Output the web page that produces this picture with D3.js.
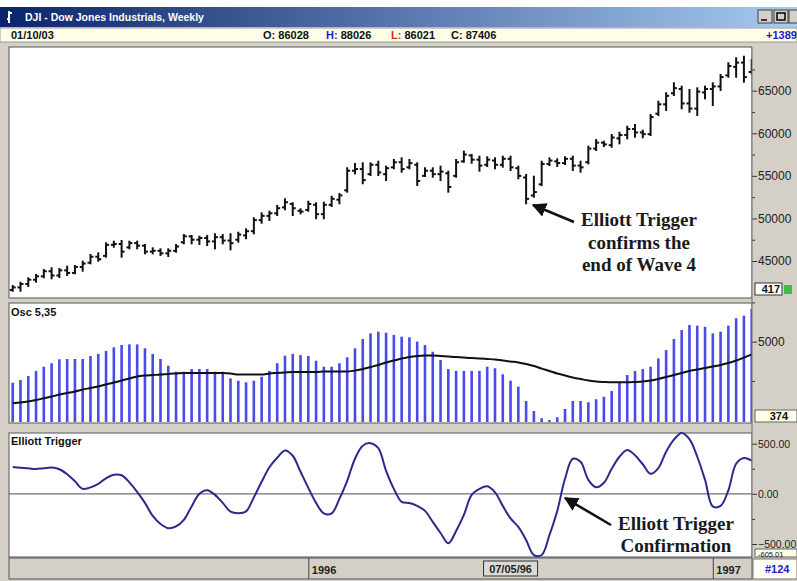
<!DOCTYPE html>
<html>
<head>
<meta charset="utf-8">
<script src="https://cdn.jsdelivr.net/npm/d3@7"></script>
<style>
body { margin: 0; background: #fff; }
text { font-family: "Liberation Sans", Arial, sans-serif; }
text.note { font-family: "Liberation Serif", "Times New Roman", serif; }
</style>
</head>
<body>
<div id="chart"></div>
<script>
const w = 797;
const h = 581;

// weekly DJI bars (values x10, as the chart shows them)
const opens = [41600,41900,42300,42800,43200,43800,43300,43900,43600,44300,
  44800,45500,45600,46900,47000,46600,47100,46800,46100,46200,
  45900,46200,47200,47900,47500,47700,47300,47800,47400,47500,
  48000,48500,49800,50300,50600,51300,51700,50900,51000,51600,
  50500,51600,52200,53300,55600,55800,55200,56300,55200,56000,
  56600,56000,56300,55000,55600,55200,55300,55000,56700,57400,
  56900,56300,56800,56300,57000,55900,54800,52700,54000,56400,
  56700,56500,57000,56200,56600,58200,58900,58600,59400,59800,
  60500,60100,59900,62300,63400,64700,65200,63500,62900,64800,
  65200,65500,66800,67800,68300,67200];
const highs = [42060,42450,42970,43360,43940,44140,44060,44330,44410,44920,
  45710,45900,47080,47270,47350,47270,47270,46880,46490,46370,
  46370,46880,48050,47940,47850,47940,48140,48050,48140,48320,
  48720,50020,50600,50790,51460,52250,51780,51070,51960,51780,
  51850,52550,52870,55890,56390,56470,56470,56660,56080,56860,
  57060,56860,56470,55890,55890,56080,55490,56860,57840,57450,
  57250,57180,57060,57250,57250,56080,55100,54900,56660,57060,
  56940,57180,57250,56660,58420,59210,59010,59800,60070,60770,
  60970,60300,62150,63710,64700,65870,65470,65080,65280,65470,
  65870,66840,68220,68810,68990,68610];
const lows = [41510,41510,42060,42570,43090,42970,43120,43360,43560,43860,
  44730,45040,45510,46680,45510,46490,46490,45900,45900,45710,
  45590,46090,47080,47080,47000,46880,46490,47080,46370,47270,
  47670,48250,49500,49820,50400,51070,50400,50600,50910,50020,
  50020,51460,51780,53140,55300,54130,55100,55100,54510,55890,
  55490,55890,53930,54980,54900,54510,53140,54900,56660,56540,
  55610,56160,55890,56080,55690,54710,51780,52550,53930,56270,
  56160,56390,55690,55490,56470,58040,58510,58420,58820,59410,
  59600,59530,59800,62150,62730,64500,62930,62530,62150,64110,
  63320,65080,66640,66640,66060,67040];
const closes = [41900,42300,42800,43200,43800,43300,43900,43600,44300,44700,
  45500,45200,46900,47000,46100,47100,46800,46100,46200,45900,
  46200,46700,47900,47500,47700,47300,47800,47400,47100,48100,
  48500,49800,50300,50600,51200,51900,51200,50800,51700,50500,
  51600,52300,52700,55600,55800,54500,56300,55400,55900,56600,
  55800,56500,54400,55600,55200,55500,53700,56600,57500,56900,
  56200,56900,56300,57000,56000,55000,52300,53100,56400,56800,
  56500,57000,56200,56000,58200,58900,58700,59500,59800,60500,
  60100,59900,61900,63400,64400,65300,63500,62900,64900,65200,
  65500,66600,67900,68300,66600,68300];

// Osc 5,35 histogram and its average
const oscValues = [2390,2560,2820,3140,3410,3630,3880,3900,3900,3900,
  4090,4220,4410,4640,4790,4830,4830,4580,4220,3900,
  3470,3090,3090,3260,3260,3260,3090,3090,2670,2520,
  2420,2520,2770,3140,3630,4110,4220,4150,4090,3790,
  3410,3410,3630,4010,4580,5170,5530,5640,5570,5430,
  5320,5280,5000,4790,4360,3840,3260,3140,3140,3140,
  3140,3410,3310,2930,2520,2140,1230,590,130,20,
  190,720,1230,1230,1150,1340,1500,1860,2420,2880,
  3140,3260,3410,3940,4470,5170,5740,6060,6020,5950,
  5530,5640,6020,6490,6650,7080];
const oscSignal = [1080,1130,1200,1290,1400,1510,1640,1740,1830,1960,
  2050,2150,2280,2400,2530,2660,2790,2850,2880,2910,
  2950,2980,3010,3010,3010,3010,3010,3010,2980,2910,
  2910,2910,2910,2980,3010,3040,3070,3070,3070,3070,
  3100,3100,3100,3100,3170,3260,3390,3520,3680,3800,
  3930,4030,4090,4120,4120,4090,4060,4030,3990,3960,
  3930,3900,3870,3800,3740,3680,3580,3450,3290,3140,
  2980,2850,2720,2630,2530,2470,2440,2420,2420,2420,
  2440,2470,2530,2630,2750,2880,3010,3140,3230,3330,
  3420,3520,3640,3800,3990,4190];

// Elliott Trigger
const trigger = [267,260,255,247,255,262,245,195,125,50,
  65,100,155,190,185,115,20,-90,-220,-300,
  -343,-325,-260,-125,0,37,-10,-90,-177,-193,
  -175,-35,120,265,360,433,380,220,60,-90,
  -195,-195,-50,130,350,480,505,455,230,50,
  -80,-92,-120,-170,-280,-390,-493,-370,-210,-10,
  50,75,15,-120,-245,-330,-460,-610,-610,-410,
  -170,150,350,320,140,65,110,250,370,438,
  385,295,200,257,420,540,607,545,370,140,
  -125,-120,35,300,357,330];

const priceTicks = [45000, 50000, 55000, 60000, 65000];
const priceMinor = [47500, 52500, 57500, 62500, 67500];
const oscTicks = [5000];
const oscMinor = [2500, 7500];
const trigTicks = [500, 0, -500];
const trigMinor = [250, -250];
const yearTicks = [new Date(1996, 0, 5), new Date(1997, 0, 3)];
const cursorDate = new Date(1996, 6, 5);

const weeks = d3.timeFriday.range(new Date(1995, 3, 14), new Date(1997, 1, 8));

const left = 9, right = 752;
const main = {top: 47, bottom: 298};
const osc = {top: 303, bottom: 423};
const trig = {top: 433, bottom: 557};

const x = d3.scaleTime().domain([weeks[0], weeks[weeks.length - 1]]).range([12.7, 751.7]);
const priceY = d3.scaleLinear().domain([45000, 65000]).range([261, 90.7]);
const oscY = d3.scaleLinear().domain([0, 5000]).range([420.3, 341.7]);
const trigY = d3.scaleLinear().domain([-500, 500]).range([544, 443.7]);

const svg = d3.select('#chart').append('svg')
  .attr('width', w).attr('height', h);

const defs = svg.append('defs');
const grad = defs.append('linearGradient').attr('id', 'titlebar');
grad.append('stop').attr('offset', '0%').attr('stop-color', '#0a246a');
grad.append('stop').attr('offset', '100%').attr('stop-color', '#a6caf0');
defs.append('marker').attr('id', 'arrow')
  .attr('viewBox', '0 0 10 10').attr('refX', 9).attr('refY', 5)
  .attr('markerWidth', 5.5).attr('markerHeight', 5.5).attr('orient', 'auto')
  .append('path').attr('d', 'M0,0 L10,5 L0,10 Z').attr('fill', '#111');

// window chrome
svg.append('rect').attr('x', 0).attr('y', 0).attr('width', w).attr('height', h).attr('fill', '#fff');
svg.append('rect').attr('x', 0).attr('y', 7).attr('width', w).attr('height', h - 7).attr('fill', '#d4d0c8');
svg.append('rect').attr('x', 0).attr('y', 7).attr('width', w).attr('height', 20).attr('fill', 'url(#titlebar)');
svg.append('path').attr('d', 'M9,23 L9,11 M9,13 L12,13 M7,19 L9,19')
  .attr('stroke', '#fff').attr('stroke-width', 2).attr('fill', 'none');
svg.append('text').attr('x', 25).attr('y', 21)
  .attr('fill', '#fff').attr('font-size', 10.5).attr('font-weight', 'bold')
  .text('DJI - Dow Jones Industrials, Weekly');

const btns = [758, 774, 789];
svg.selectAll('.btn').data(btns).enter().append('rect')
  .attr('class', 'btn').attr('x', d => d).attr('y', 10).attr('width', 14).attr('height', 13)
  .attr('fill', '#d4d0c8').attr('stroke', '#404040').attr('stroke-width', 1);
svg.append('path').attr('d', 'M761,20 L767,20 M777,13 L785,13 L785,20 L777,20 Z')
  .attr('stroke', '#000').attr('stroke-width', 1.5).attr('fill', 'none');

// info bar
svg.append('rect').attr('x', 0).attr('y', 28).attr('width', w).attr('height', 14)
  .attr('fill', '#fefee6').attr('stroke', '#9a9a9a');
const info = svg.append('g').attr('font-size', 11).attr('font-weight', 'bold');
info.append('text').attr('x', 11).attr('y', 39).attr('fill', '#111').text('01/10/03');
info.append('text').attr('x', 263).attr('y', 39).attr('fill', '#111').text('O: 86028');
const hText = info.append('text').attr('x', 326).attr('y', 39);
hText.append('tspan').attr('fill', '#2020d0').text('H: ');
hText.append('tspan').attr('fill', '#111').text('88026');
const lText = info.append('text').attr('x', 391).attr('y', 39);
lText.append('tspan').attr('fill', '#e02020').text('L: ');
lText.append('tspan').attr('fill', '#111').text('86021');
info.append('text').attr('x', 451).attr('y', 39).attr('fill', '#111').text('C: 87406');
info.append('text').attr('x', 766).attr('y', 39).attr('fill', '#2020d0').text('+1389');

// panels
[main, osc, trig].forEach(p => {
  svg.append('rect').attr('x', left).attr('y', p.top)
    .attr('width', right - left).attr('height', p.bottom - p.top)
    .attr('fill', '#fff').attr('stroke', '#6e6e6e').attr('stroke-width', 1.2);
});

// price bars
const bars = svg.append('g').attr('stroke', '#111').attr('stroke-width', 2);
weeks.forEach((d, i) => {
  const cx = x(d);
  bars.append('line').attr('x1', cx).attr('x2', cx)
    .attr('y1', priceY(highs[i]) - 1).attr('y2', priceY(lows[i]) + 1);
  bars.append('line').attr('x1', cx - 3).attr('x2', cx)
    .attr('y1', priceY(opens[i])).attr('y2', priceY(opens[i]));
  bars.append('line').attr('x1', cx).attr('x2', cx + 3)
    .attr('y1', priceY(closes[i])).attr('y2', priceY(closes[i]));
});

// oscillator histogram
svg.append('g').selectAll('rect').data(oscValues).enter().append('rect')
  .attr('x', (d, i) => x(weeks[i]) - 1.3)
  .attr('y', d => oscY(d))
  .attr('width', 2.6)
  .attr('height', d => osc.bottom - 1 - oscY(d))
  .attr('fill', '#4a4ae8');

svg.append('path').datum(oscSignal)
  .attr('d', d3.line().x((d, i) => x(weeks[i])).y(d => oscY(d)).curve(d3.curveMonotoneX))
  .attr('fill', 'none').attr('stroke', '#111').attr('stroke-width', 2);

// elliott trigger
svg.append('line').attr('x1', left).attr('x2', right)
  .attr('y1', trigY(0)).attr('y2', trigY(0))
  .attr('stroke', '#707070').attr('stroke-width', 1.2);
svg.append('path').datum(trigger)
  .attr('d', d3.line().x((d, i) => x(weeks[i])).y(d => trigY(d)).curve(d3.curveCatmullRom))
  .attr('fill', 'none').attr('stroke', '#2a2a8e').attr('stroke-width', 2);

// panel titles
svg.append('text').attr('x', 11).attr('y', 316).attr('font-size', 11).attr('font-weight', 'bold')
  .attr('fill', '#111').text('Osc 5,35');
svg.append('text').attr('x', 11).attr('y', 445).attr('font-size', 11).attr('font-weight', 'bold')
  .attr('fill', '#111').text('Elliott Trigger');

// right axes
svg.append('rect').attr('x', right).attr('y', main.top - 2).attr('width', w - right)
  .attr('height', trig.bottom - main.top + 2).attr('fill', '#d4d0c8');

function rightAxis(scale, major, minor, fmt, size) {
  const g = svg.append('g').attr('transform', `translate(${right},0)`);
  g.call(d3.axisRight(scale).tickValues(major).tickSize(5).tickPadding(1).tickFormat(fmt));
  g.append('g').call(d3.axisRight(scale).tickValues(minor).tickSize(3).tickFormat(''));
  g.selectAll('.domain').remove();
  g.selectAll('text').attr('font-size', size).attr('fill', '#222')
    .style('font-family', '"Liberation Sans", Arial, sans-serif');
  g.selectAll('line').attr('stroke', '#333');
  return g;
}
rightAxis(priceY, priceTicks, priceMinor, d3.format('d'), 12);
rightAxis(oscY, oscTicks, oscMinor, d3.format('d'), 12);
rightAxis(trigY, trigTicks, trigMinor, d3.format('.2f'), 10.5);

svg.append('line').attr('x1', right).attr('x2', right).attr('y1', main.top).attr('y2', trig.bottom)
  .attr('stroke', '#6e6e6e');

// value boxes on the axes
svg.append('rect').attr('x', 755).attr('y', 283).attr('width', 27).attr('height', 12)
  .attr('fill', '#fff').attr('stroke', '#333');
svg.append('text').attr('x', 780).attr('y', 293).attr('text-anchor', 'end')
  .attr('font-size', 11).attr('font-weight', 'bold').attr('fill', '#111').text('417');
svg.append('rect').attr('x', 784).attr('y', 285).attr('width', 8).attr('height', 9).attr('fill', '#3cbf3c');
svg.append('rect').attr('x', 755).attr('y', 410).attr('width', 42).attr('height', 12)
  .attr('fill', '#fefee6').attr('stroke', '#666');
svg.append('text').attr('x', 788).attr('y', 420).attr('text-anchor', 'end')
  .attr('font-size', 11).attr('font-weight', 'bold').attr('fill', '#111').text('374');
svg.append('rect').attr('x', 755).attr('y', 549).attr('width', 42).attr('height', 8)
  .attr('fill', '#fefee6').attr('stroke', '#666');
svg.append('text').attr('x', 758).attr('y', 556.5)
  .attr('font-size', 7.5).attr('fill', '#111').text('-605.01');

// date band
svg.append('rect').attr('x', left).attr('y', 558).attr('width', right - left).attr('height', 21)
  .attr('fill', '#d4d0c8').attr('stroke', '#555');
const dateAxis = svg.append('g').attr('transform', 'translate(0,558)')
  .call(d3.axisBottom(x).tickValues(yearTicks).tickSize(21).tickFormat(d3.timeFormat('%Y')));
dateAxis.select('.domain').remove();
dateAxis.selectAll('line').attr('stroke', '#444');
dateAxis.selectAll('text').attr('y', 8).attr('dy', '0.71em').attr('x', 3)
  .attr('text-anchor', 'start').attr('font-size', 11).attr('font-weight', 'bold')
  .attr('fill', '#222').style('font-family', '"Liberation Sans", Arial, sans-serif');

const cx0 = x(cursorDate);
svg.append('rect').attr('x', cx0 - 27).attr('y', 561).attr('width', 54).attr('height', 15)
  .attr('fill', '#dcdad4').attr('stroke', '#333');
svg.append('text').attr('x', cx0).attr('y', 573).attr('text-anchor', 'middle')
  .attr('font-size', 11).attr('font-weight', 'bold').attr('fill', '#222')
  .text(d3.timeFormat('%m/%d/%y')(cursorDate));
svg.append('rect').attr('x', 753).attr('y', 559).attr('width', 44).attr('height', 20)
  .attr('fill', '#fefef4').attr('stroke', '#777');
svg.append('text').attr('x', 765).attr('y', 573)
  .attr('font-size', 11).attr('font-weight', 'bold').attr('fill', '#2020d0').text('#124');

// annotations
const note1 = svg.append('text').attr('class', 'note')
  .attr('font-size', 19).attr('font-weight', 'bold').attr('fill', '#1a1a1a').attr('text-anchor', 'middle');
['Elliott Trigger', 'confirms the', 'end of Wave 4'].forEach((t, i) => {
  note1.append('tspan').attr('x', 639).attr('y', 226 + i * 22.5).text(t);
});
svg.append('line').attr('x1', 574).attr('y1', 222).attr('x2', 533).attr('y2', 205)
  .attr('stroke', '#111').attr('stroke-width', 2.6).attr('marker-end', 'url(#arrow)');

const note2 = svg.append('text').attr('class', 'note')
  .attr('font-size', 19).attr('font-weight', 'bold').attr('fill', '#1a1a1a').attr('text-anchor', 'middle');
['Elliott Trigger', 'Confirmation'].forEach((t, i) => {
  note2.append('tspan').attr('x', 676).attr('y', 530 + i * 22).text(t);
});
svg.append('line').attr('x1', 611).attr('y1', 525).attr('x2', 565).attr('y2', 498)
  .attr('stroke', '#111').attr('stroke-width', 2.6).attr('marker-end', 'url(#arrow)');
</script>
</body>
</html>
